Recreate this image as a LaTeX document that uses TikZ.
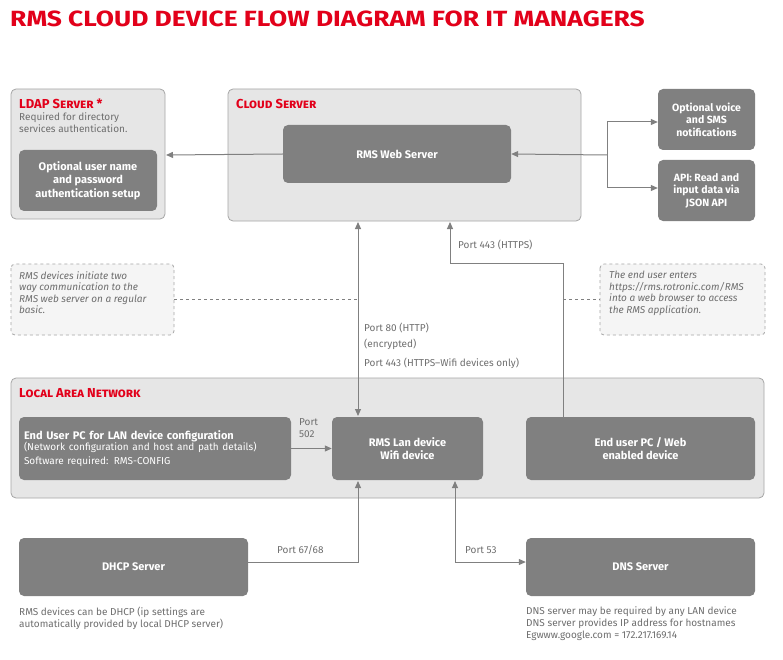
\documentclass[tikz,border=0pt]{standalone}
\usepackage{fontspec}
\setmainfont{Fira Sans}
\usetikzlibrary{arrows.meta}
\definecolor{rred}{HTML}{E2001A}
\definecolor{dgray}{HTML}{808080}
\definecolor{lgray}{HTML}{E6E6E6}
\definecolor{bgray}{HTML}{A6A6A6}
\definecolor{tgray}{HTML}{6E6E6E}
\tikzset{
 outer/.style={draw=bgray,fill=lgray,rounded corners=5pt,line width=0.8pt},
 inner/.style={fill=dgray,rounded corners=5pt,text=white,font=\bfseries\fontsize{11}{13.5}\selectfont,align=center},
 note/.style={draw=bgray,dashed,fill=white!96!black,rounded corners=4pt,line width=0.8pt},
 conn/.style={draw=dgray,line width=1pt,-{Triangle[length=7pt,width=6pt]}},
 lbl/.style={text=tgray,font=\fontsize{10}{12}\selectfont,anchor=west,inner sep=0pt,align=left},
 ttl/.style={text=rred,font=\bfseries\scshape\fontsize{13}{15}\selectfont,anchor=west,inner sep=0pt},
 it/.style={text=tgray,font=\itshape\fontsize{10}{11.5}\selectfont,anchor=north west,align=left,inner sep=0pt}
}
\begin{document}
\begin{tikzpicture}[x=1pt,y=-1pt]
\useasboundingbox[fill=white] (0,0) rectangle (783,660);
\node[anchor=west,inner sep=0pt,text=rred,font=\bfseries\fontsize{22}{26}\selectfont,xscale=1.2] (title) at (10,19) {RMS CLOUD DEVICE FLOW DIAGRAM FOR IT MANAGERS};
% outer boxes
\path[outer] (11,89) rectangle (165,219);
\node[ttl] (ldapt) at (19,104) {LDAP Server *};
\node[lbl,anchor=north west] (ldapd) at (19,113) {Required for directory\\services authentication.};
\path[outer] (228,89) rectangle (581,221);
\node[ttl] (cloudt) at (236,104) {Cloud Server};
\path[outer] (11,378) rectangle (764,498);
\node[ttl] (lant) at (19,393) {Local Area Network};
% inner boxes
\node[inner,minimum width=138,minimum height=61] (auth) at (88,180.5) {Optional user name\\and password\\authentication setup};
\node[inner,minimum width=228,minimum height=58] (web) at (397,154) {RMS Web Server};
\node[inner,minimum width=97,minimum height=61,font=\bfseries\fontsize{10.5}{12.5}\selectfont] (voice) at (706.5,119.5) {Optional voice\\and SMS\\notifications};
\node[inner,minimum width=97,minimum height=61,font=\bfseries\fontsize{10.5}{12.5}\selectfont] (api) at (706.5,190.5) {API: Read and\\input data via\\JSON API};
\node[inner,minimum width=272,minimum height=63,align=left,text width=262,inner xsep=5pt] (pc) at (155,448.5) {End User PC for LAN device configuration\\[-1pt]{\mdseries\fontsize{10}{12}\selectfont (Network configuration and host and path details)\\Software required: RMS-CONFIG}};
\node[inner,minimum width=151,minimum height=63] (dev) at (407.5,448.5) {RMS Lan device\\Wifi device};
\node[inner,minimum width=229,minimum height=63] (webpc) at (640.5,448.5) {End user PC / Web\\enabled device};
\node[inner,minimum width=229,minimum height=58] (dhcp) at (133.5,567) {DHCP Server};
\node[inner,minimum width=229,minimum height=58] (dns) at (640.5,567) {DNS Server};
% notes
\draw[note] (11,264) rectangle (174,335);
\node[it] (n1) at (19,271) {RMS devices initiate two\\way communication to the\\RMS web server on a regular\\basic.};
\draw[note] (600,264) rectangle (765,335);
\node[it] (n2) at (609,271) {The end user enters\\https://rms.rotronic.com/RMS\\into a web browser to access\\the RMS application.};
\draw[dgray,dashed,line width=0.8pt] (174,299) -- (358,299);
\draw[dgray,dashed,line width=0.8pt] (563,299) -- (600,299);
% connectors
\coordinate (ldapr) at (166,155);
\draw[conn] (web.west) -- (ldapr);
\coordinate (br) at (607,155);
\draw[conn] (br) -- (web.east);
\draw[dgray,line width=1pt] (607,122) -- (607,188);
\draw[conn] (607,122) -- (voice.west |- 0,122);
\draw[conn] (607,188) -- (api.west |- 0,188);
\coordinate (ct) at (358,222);
\draw[conn,{Triangle[length=7pt,width=6pt]}-{Triangle[length=7pt,width=6pt]}] (ct) -- (358,416);
\coordinate (c443) at (450,222);
\draw[conn] (webpc.north -| 563,0) -- (563,263) -- (450,263) -- (c443);
\draw[conn] (pc.east) -- (dev.west);
\draw[conn] (dhcp.east |- 0,562) -- (358,562) -- (358,481);
\draw[conn,{Triangle[length=7pt,width=6pt]}-{Triangle[length=7pt,width=6pt]}] (455,481) -- (455,562) -- (dns.west |- 0,562);
% labels
\node[lbl] (l1) at (364,328) {Port 80 (HTTP)};
\node[lbl] (l2) at (364,344) {(encrypted)};
\node[lbl] (l3) at (364,363) {Port 443 (HTTPS–Wifi devices only)};
\node[lbl] (l4) at (458,245) {Port 443 (HTTPS)};
\node[lbl] (l5) at (299,428) {Port\\502};
\node[lbl] (l6) at (277,550) {Port 67/68};
\node[lbl] (l7) at (465,550) {Port 53};
\node[lbl,anchor=north west] (b1) at (19,607) {RMS devices can be DHCP (ip settings are\\automatically provided by local DHCP server)};
\node[lbl,anchor=north west] (b2) at (526,606) {DNS server may be required by any LAN device\\DNS server provides IP address for hostnames\\Egwww.google.com = 172.217.169.14};
\end{tikzpicture}
\end{document}
